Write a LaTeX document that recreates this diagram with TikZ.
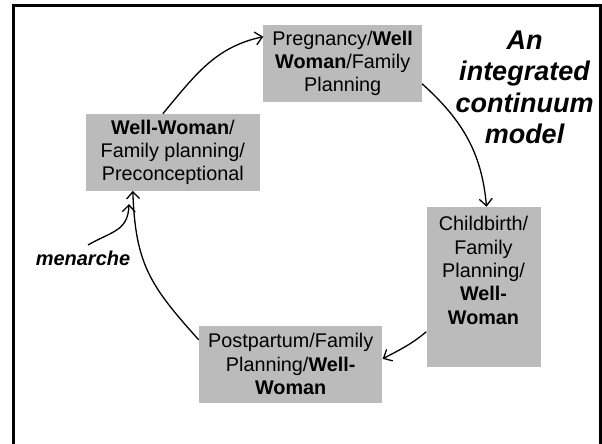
\documentclass[tikz,border=0pt]{standalone}
\usepackage{fontspec}
\setmainfont{Liberation Sans}
\usetikzlibrary{arrows.meta}
\definecolor{boxgray}{RGB}{187,187,187}
\newcommand{\boxfont}{\fontsize{19.8}{23.4}\selectfont}
\tikzset{
	stagebox/.style={rectangle, fill=boxgray, inner sep=0pt, align=center, font=\boxfont},
	cycarrow/.style={line width=1.3pt, -{Straight Barb[length=7pt, width=13pt, line width=1.3pt]}}
}

\begin{document}
\begin{tikzpicture}[x=1pt, y=1pt]
			%%%%% START %%%%%
			
			\useasboundingbox (0, 0) rectangle (602, 444);
			\draw[line width=3pt] (13.5, -5) -- (13.5, 438) -- (600.5, 438) -- (600.5, -5);
			
			\node[stagebox, minimum width=158.5, minimum height=76.7] (preg) at (342.7, 380.7)
				{Pregnancy/\textbf{Well}\\\textbf{Woman}/Family\\Planning};
			\node[stagebox, minimum width=173.6, minimum height=76.7] (well) at (172.8, 291.7)
				{\textbf{Well-Woman}/\\Family planning/\\Preconceptional};
			\node[stagebox, minimum width=114, minimum height=159.7] (birth) at (483.5, 157.2)
				{\parbox[t][141pt][t]{114pt}{\centering Childbirth/\\Family\\Planning/\\\textbf{Well-}\\\textbf{Woman}}};
			\node[stagebox, minimum width=183.5, minimum height=76.5] (post) at (290.7, 79.7)
				{Postpartum/Family\\Planning/\textbf{Well-}\\\textbf{Woman}};
			
			\node[align=center, font=\fontsize{27}{31.5}\selectfont\bfseries\itshape] (title) at (524.5, 356.5)
				{An\\integrated\\continuum\\model};
			\node[font=\fontsize{20}{24}\selectfont\bfseries\itshape, inner sep=0pt] (men) at (83, 186) {menarche};
			
			\draw[cycarrow] ([xshift=77pt]well.north west) to[out=50, in=192] ([yshift=-12pt]preg.north west);
			\draw[cycarrow] ([yshift=18pt]preg.south east) to[out=-42, in=95] ([xshift=3pt]birth.north);
			\draw[cycarrow] ([yshift=-125pt]birth.north west) to[out=220, in=28] ([yshift=-33pt]post.north east);
			\draw[cycarrow] ([yshift=-14pt]post.north west) to[out=132, in=-88, looseness=1.15] ([xshift=47pt]well.south west);
			
			\coordinate (menstart) at (88, 199);
			\coordinate (menend) at (129, 240);
			\draw[cycarrow] (menstart) to[out=30, in=-92, looseness=1.2] (menend);
			
			%%%%% END %%%%%
\end{tikzpicture}
\end{document}
